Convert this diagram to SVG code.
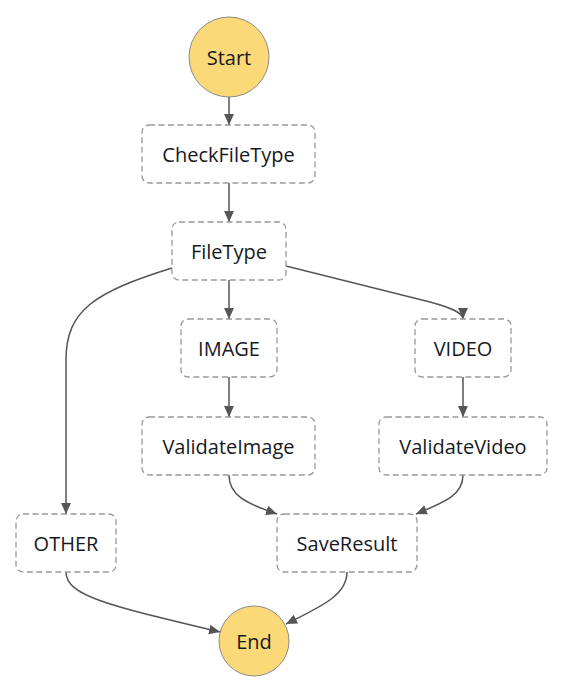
<svg xmlns="http://www.w3.org/2000/svg" width="569" height="693" viewBox="0 0 569 693">
<defs>
<marker id="arr" viewBox="0 0 10 10" refX="10" refY="5" markerWidth="11" markerHeight="11" markerUnits="userSpaceOnUse" orient="auto">
<path d="M0,0.5 L10,5 L0,9.5 Z" fill="#555"/>
</marker>
<style>
.box{fill:#fff;stroke:#999;stroke-width:1.3;stroke-dasharray:6,3.5}
.circ{fill:#fbd878;stroke:#8a8a8a;stroke-width:1}
.lbl{font-family:"Open Sans","Noto Sans",sans-serif;font-size:20px;fill:#16191f;text-anchor:middle;dominant-baseline:central}
.edge{fill:none;stroke:#555;stroke-width:1.5;marker-end:url(#arr)}
</style>
</defs>
<rect width="569" height="693" fill="#fff"/>
<g id="connectors">
<path class="edge" d="M229,97 L229,125"/>
<path class="edge" d="M229,183 L229,222"/>
<path class="edge" d="M229,280 L229,319"/>
<path class="edge" d="M172,268 C95,292 66,310 66,360 L66,514"/>
<path class="edge" d="M286,266 L430,302 C452,308 463,313 463,319"/>
<path class="edge" d="M229,377 L229,417"/>
<path class="edge" d="M463,377 L463,417"/>
<path class="edge" d="M229,475 C229,495 245,503 277,514"/>
<path class="edge" d="M463,475 C463,495 445,502 416,514"/>
<path class="edge" d="M66,572 C66,596 110,606 220,632"/>
<path class="edge" d="M347,572 C347,595 322,606 286,624"/>
</g>
<g id="Start"><circle class="circ" cx="229" cy="57" r="40"/><text class="lbl" x="229" y="57">Start</text></g>
<g id="CheckFileType"><rect class="box" x="142" y="125" width="173" height="58" rx="7"/><text class="lbl" x="228.5" y="154">CheckFileType</text></g>
<g id="FileType"><rect class="box" x="172" y="222" width="114" height="58" rx="7"/><text class="lbl" x="229" y="251">FileType</text></g>
<g id="IMAGE"><rect class="box" x="181" y="319" width="96" height="58" rx="7"/><text class="lbl" x="229" y="348">IMAGE</text></g>
<g id="VIDEO"><rect class="box" x="415" y="319" width="96" height="58" rx="7"/><text class="lbl" x="463" y="348">VIDEO</text></g>
<g id="ValidateImage"><rect class="box" x="142" y="417" width="173" height="58" rx="7"/><text class="lbl" x="228.5" y="446">ValidateImage</text></g>
<g id="ValidateVideo"><rect class="box" x="379" y="417" width="168" height="58" rx="7"/><text class="lbl" x="463" y="446">ValidateVideo</text></g>
<g id="OTHER"><rect class="box" x="16" y="514" width="100" height="58" rx="7"/><text class="lbl" x="66" y="543">OTHER</text></g>
<g id="SaveResult"><rect class="box" x="277" y="514" width="140" height="58" rx="7"/><text class="lbl" x="347" y="543">SaveResult</text></g>
<g id="End"><circle class="circ" cx="254" cy="641" r="35"/><text class="lbl" x="254" y="641">End</text></g>
</svg>
